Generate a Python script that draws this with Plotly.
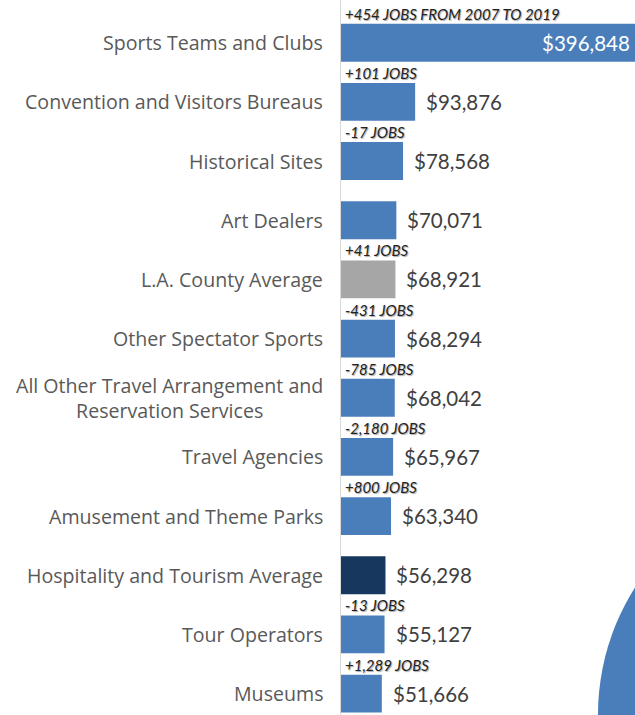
import plotly.graph_objects as go

categories = [
    "Sports Teams and Clubs",
    "Convention and Visitors Bureaus",
    "Historical Sites",
    "Art Dealers",
    "L.A. County Average",
    "Other Spectator Sports",
    "All Other Travel Arrangement and<br>Reservation Services",
    "Travel Agencies",
    "Amusement and Theme Parks",
    "Hospitality and Tourism Average",
    "Tour Operators",
    "Museums",
]
wages = [396848, 93876, 78568, 70071, 68921, 68294, 68042, 65967, 63340, 56298, 55127, 51666]
job_notes = [
    "+454 JOBS FROM 2007 TO 2019", "+101 JOBS", "-17 JOBS", "",
    "+41 JOBS", "-431 JOBS", "-785 JOBS", "-2,180 JOBS",
    "+800 JOBS", "", "-13 JOBS", "+1,289 JOBS",
]

BLUE = "#4a7ebb"
GRAY = "#a6a6a6"
NAVY = "#17375e"
colors = [BLUE] * len(categories)
colors[4] = GRAY
colors[9] = NAVY

ids = list(range(len(categories)))
x_max = 372200

fig = go.Figure(go.Bar(
    x=wages, y=ids, orientation="h",
    marker=dict(color=colors, line=dict(width=0)),
    width=0.64, hoverinfo="skip",
))

annotations = []
CAT_FONT = "'Open Sans', sans-serif"
VAL_FONT = "Lato, sans-serif"
for i, (cat, val, note) in enumerate(zip(categories, wages, job_notes)):
    annotations.append(dict(
        x=0, xref="paper", y=i, yref="y", text=cat, showarrow=False,
        xanchor="right", yanchor="middle", xshift=-16, align="center",
        font=dict(family=CAT_FONT, size=19.6, color="#595959"),
    ))
    if val > x_max:
        annotations.append(dict(
            x=1, xref="paper", y=i, yref="y", text=f"${val:,}", showarrow=False,
            xanchor="right", yanchor="middle", xshift=-3,
            font=dict(family=VAL_FONT, size=20.5, color="white"),
        ))
    else:
        annotations.append(dict(
            x=val, xref="x", y=i, yref="y", text=f"${val:,}", showarrow=False,
            xanchor="left", yanchor="middle", xshift=9,
            font=dict(family=VAL_FONT, size=20.5, color="#404040"),
        ))
    if note:
        annotations.append(dict(
            x=0, xref="paper", y=i, yref="y", text=note, showarrow=False,
            xanchor="left", yanchor="middle", xshift=2, yshift=29,
            font=dict(family=VAL_FONT, size=15, color="#222222",
                      style="italic", shadow="1px 1px 1px #a8a8a8"),
        ))

fig.update_layout(
    width=635, height=715,
    margin=dict(l=341, r=0, t=0, b=0),
    paper_bgcolor="white", plot_bgcolor="white",
    showlegend=False,
    xaxis=dict(range=[0, x_max], visible=False, fixedrange=True),
    yaxis=dict(range=[11.362, -0.722], showticklabels=False, showgrid=False,
               zeroline=False, showline=True, linecolor="#d9d9d9", linewidth=1,
               ticks="", fixedrange=True),
    annotations=annotations,
    shapes=[dict(type="circle", xref="paper", yref="paper",
                 x0=0.874, x1=2.503, y0=-0.334, y1=0.334,
                 fillcolor=BLUE, line=dict(width=0), layer="below")],
)

fig.write_html(
    "out.html",
    config={"displayModeBar": False},
    post_script="document.body.style.margin='0';document.body.style.overflow='hidden';",
)
